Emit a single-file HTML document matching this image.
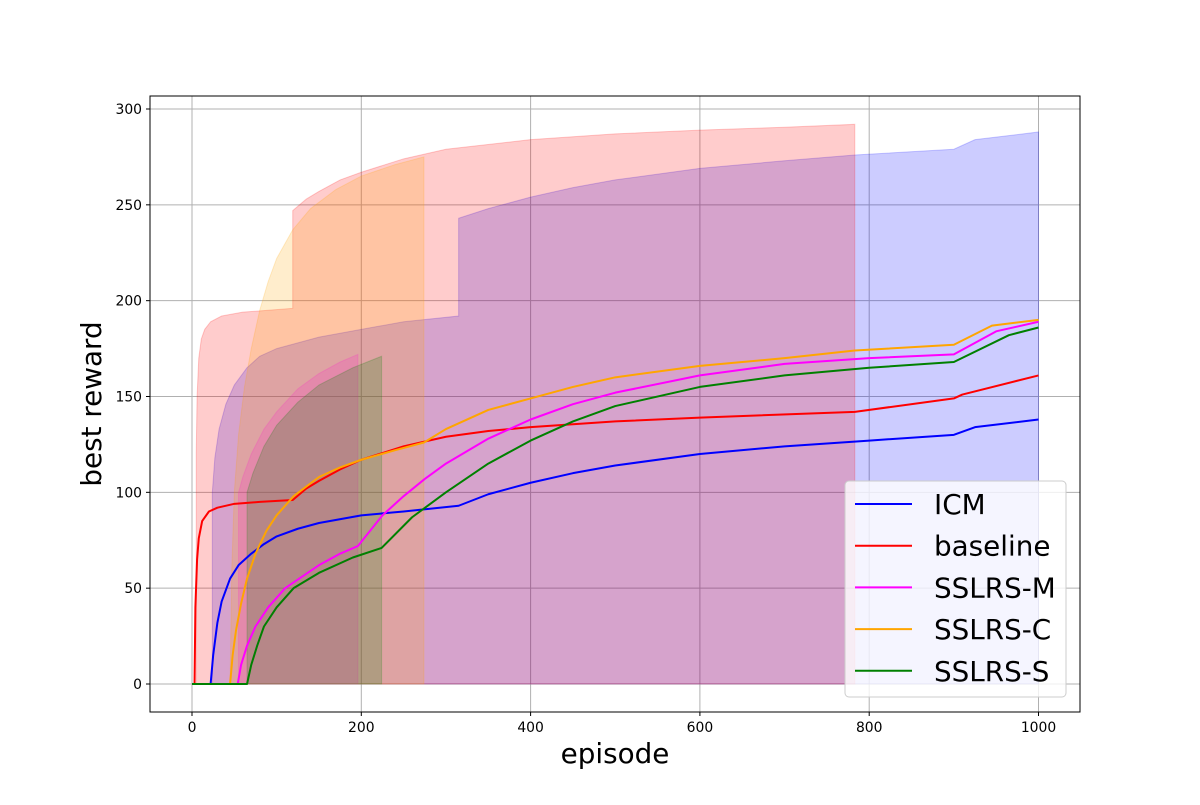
<!DOCTYPE html>
<html><head><meta charset="utf-8"><style>
body{margin:0;background:#fff;}
svg{font-family:"DejaVu Sans","Liberation Sans",sans-serif;}
</style></head><body>
<svg id="chart" width="1200" height="800" viewBox="0 0 1200 800" xmlns="http://www.w3.org/2000/svg">
<rect width="1200" height="800" fill="#fff"/>
<g id="grid"></g>
<g id="bands"></g>
<g id="lines"></g>
<rect x="150" y="96" width="930" height="616" fill="none" stroke="#000" stroke-width="1"/>
<g id="ticks"></g>
<text x="615" y="763" font-size="27.8" text-anchor="middle">episode</text>
<text transform="translate(101,404) rotate(-90)" font-size="27.8" text-anchor="middle">best reward</text>
<g id="legend"></g>
</svg>
<script>
const seriesNames = ["ICM","baseline","SSLRS-M","SSLRS-C","SSLRS-S"];
const seriesColors = ["#0000ff","#ff0000","#ff00ff","#ffa500","#008000"];
const xTicks = [0,200,400,600,800,1000];
const yTicks = [0,50,100,150,200,250,300];

const icmEp = [0,22,25,30,35,45,55,70,85,100,125,150,200,250,315,350,400,450,500,600,700,800,900,925,1000];
const icmMean = [0,0,15,32,43,55,62,68,73,77,81,84,88,90,93,99,105,110,114,120,124,127,130,134,138];
const baseEp = [0,3,4,6,8,12,20,30,50,80,119,135,150,175,200,250,300,350,400,500,600,783,900,910,1000];
const baseMean = [0,0,40,65,76,85,90,92,94,95,96,102,106,112,117,124,129,132,134,137,139,142,149,151,161];
const mEp = [0,54,58,65,75,90,110,130,150,175,196,225,250,275,300,350,400,450,500,600,700,800,900,950,1000];
const mMean = [0,0,10,20,30,40,50,56,62,68,72,88,98,107,115,128,138,146,152,161,167,170,172,184,189];
const cEp = [0,45,48,52,58,65,75,88,100,120,150,175,200,240,274,300,350,400,450,500,600,700,783,900,945,1000];
const cMean = [0,0,15,28,42,55,68,80,88,98,108,113,117,122,126,133,143,149,155,160,166,170,174,177,187,190];
const sEp = [0,65,70,77,85,100,120,150,190,224,260,300,350,400,450,500,600,700,800,900,965,1000];
const sMean = [0,0,10,20,30,40,50,58,66,71,87,100,115,127,137,145,155,161,165,168,182,186];

const icmBandEp = [24,24,27,32,40,50,65,80,100,150,200,250,315,315,350,400,450,500,600,700,783,900,925,1000];
const icmBandUp = [0,100,118,133,146,156,165,171,175,181,185,189,192,243,248,254,259,263,269,273,276,279,284,288];
const baseBandEp = [5,5,6,8,11,15,22,35,60,90,119,119,135,150,175,200,250,300,400,500,600,700,783];
const baseBandUp = [0,120,150,170,180,185,189,192,194,195,196,247,253,257,263,267,274,279,284,287,289,290.5,292];
const mBandEp = [55,55,60,70,85,100,125,150,175,196];
const mBandUp = [0,100,108,120,133,142,154,162,168,172];
const cBandEp = [45,47,50,55,62,70,80,90,100,119,140,170,200,240,274];
const cBandUp = [0,60,100,130,155,175,195,210,222,237,248,258,265,271,275];
const sBandEp = [65,65,72,85,100,125,150,190,224];
const sBandUp = [0,100,110,124,135,147,156,165,171];

const X0=150,X1=1080,Y0=96,Y1=712;
const sx = v => 192 + v*0.8465;
const sy = v => 684 - v*1.91667;
const NS="http://www.w3.org/2000/svg";
function mk(t,a,p){const e=document.createElementNS(NS,t);for(const k in a)e.setAttribute(k,a[k]);p.appendChild(e);return e;}

const grid=document.getElementById('grid'), ticks=document.getElementById('ticks');
xTicks.forEach(v=>{
  const l=mk('line',{x1:sx(v),x2:sx(v),y1:Y0,y2:Y1,stroke:'#b0b0b0','stroke-width':1},grid);
  
  
  mk('line',{x1:sx(v),x2:sx(v),y1:Y1,y2:Y1+4,stroke:'#000'},ticks);
  const tx=mk('text',{x:sx(v),y:Y1+20,'font-size':13.9,'text-anchor':'middle'},ticks);
  
  
  tx.textContent=v;
});
yTicks.forEach(v=>{
  const l=mk('line',{x1:X0,x2:X1,y1:sy(v),y2:sy(v),stroke:'#b0b0b0','stroke-width':1},grid);
  
  
  mk('line',{x1:X0-4,x2:X0,y1:sy(v),y2:sy(v),stroke:'#000'},ticks);
  const tx=mk('text',{x:X0-8,y:sy(v)+5,'font-size':13.9,'text-anchor':'end'},ticks);
  
  
  tx.textContent=v;
});

const bandSets=[[icmBandEp,icmBandUp],[baseBandEp,baseBandUp],[mBandEp,mBandUp],[cBandEp,cBandUp],[sBandEp,sBandUp]];
const bands=document.getElementById('bands');
bandSets.forEach((b,i)=>{
  const [ep,up]=b;
  let d='M'+sx(ep[0])+','+sy(0);
  ep.forEach((e,j)=>{d+=' L'+sx(e)+','+sy(up[j]);});
  d+=' L'+sx(ep[ep.length-1])+','+sy(0)+' Z';
  const p=mk('path',{d:d,fill:seriesColors[i],'fill-opacity':0.2,stroke:seriesColors[i],'stroke-opacity':0.2},bands);
  
  
});

const lineSets=[[icmEp,icmMean],[baseEp,baseMean],[mEp,mMean],[cEp,cMean],[sEp,sMean]];
const lines=document.getElementById('lines');
lineSets.forEach((s,i)=>{
  const pts=s[0].map((e,j)=>sx(e)+','+sy(s[1][j])).join(' ');
  const p=mk('polyline',{points:pts,fill:'none',stroke:seriesColors[i],'stroke-width':2,'stroke-linejoin':'round'},lines);
  
  
});

const lg=document.getElementById('legend');
const box=mk('rect',{x:845,y:481,width:221,height:216,rx:4,fill:'#fff','fill-opacity':0.8,stroke:'#ccc'},lg);


seriesNames.forEach((n,i)=>{
  const y=504+i*41.7;
  const g=mk('g',{},lg);
  
  
  mk('line',{x1:855,x2:912,y1:y,y2:y,stroke:seriesColors[i],'stroke-width':2},g);
  const t=mk('text',{x:934,y:y+10,'font-size':27.8},g);
  t.textContent=n;
});
</script>
</body></html>
